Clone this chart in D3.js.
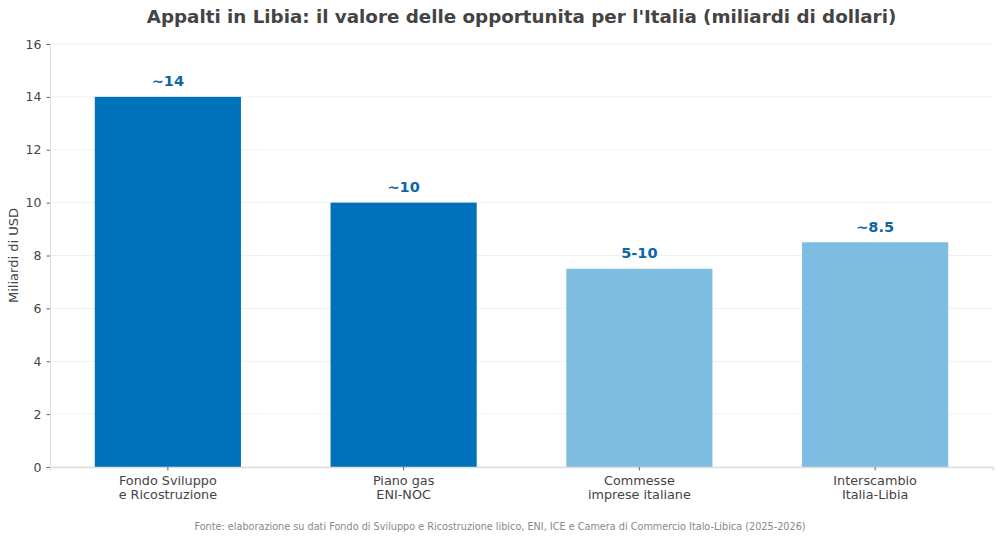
<!DOCTYPE html>
<html>
<head>
<meta charset="utf-8">
<script src="https://cdn.jsdelivr.net/npm/d3@7"></script>
<style>
  body { margin: 0; background: #fff; }
  svg text { font-family: "DejaVu Sans", sans-serif; }
</style>
</head>
<body>
<div id="chart"></div>
<script>
// dati
var categories = ["Fondo Sviluppo\ne Ricostruzione", "Piano gas\nENI-NOC", "Commesse\nimprese italiane", "Interscambio\nItalia-Libia"];
var values = [14, 10, 7.5, 8.5];
var valueLabels = ["~14", "~10", "5-10", "~8.5"];
var barColors = ["#0072bc", "#0072bc", "#7fbce2", "#7fbce2"];
var yTicks = [0, 2, 4, 6, 8, 10, 12, 14, 16];

var W = 1000, H = 542;
var margin = { top: 44, right: 7, bottom: 75, left: 50 };

var svg = d3.select("#chart").append("svg")
    .attr("width", W)
    .attr("height", H);

var x = d3.scaleBand()
    .domain(d3.range(categories.length))
    .range([margin.left, W - margin.right])
    .paddingInner(0.38)
    .paddingOuter(0.19);

var y = d3.scaleLinear()
    .domain([0, 16])
    .range([H - margin.bottom, margin.top]);

// griglia
svg.append("g")
    .selectAll("line")
    .data(yTicks)
    .enter().append("line")
    .attr("x1", margin.left)
    .attr("x2", W - margin.right)
    .attr("y1", function(d) { return y(d); })
    .attr("y2", function(d) { return y(d); })
    .attr("stroke", "#ececec")
    .attr("stroke-width", 0.8);

// barre
svg.append("g")
    .selectAll("rect")
    .data(values)
    .enter().append("rect")
    .attr("x", function(d, i) { return x(i); })
    .attr("y", function(d) { return y(d); })
    .attr("width", x.bandwidth())
    .attr("height", function(d) { return y(0) - y(d); })
    .attr("fill", function(d, i) { return barColors[i]; });

// etichette valori
svg.append("g")
    .selectAll("text")
    .data(values)
    .enter().append("text")
    .attr("x", function(d, i) { return x(i) + x.bandwidth() / 2; })
    .attr("y", function(d) { return y(d) - 10.5; })
    .attr("text-anchor", "middle")
    .attr("font-size", 14.5)
    .attr("font-weight", "bold")
    .attr("fill", "#0d66a6")
    .text(function(d, i) { return valueLabels[i]; });

// asse y
var yAxis = svg.append("g")
    .attr("transform", "translate(" + margin.left + ",0)")
    .call(d3.axisLeft(y).tickValues(yTicks).tickSize(3.5).tickPadding(5));
yAxis.select(".domain").attr("stroke", "#dddddd");
yAxis.selectAll(".tick line").attr("stroke", "#666");
yAxis.selectAll(".tick text")
    .attr("font-size", 12.5)
    .attr("fill", "#444")
    .attr("font-family", "DejaVu Sans, sans-serif");

// asse x
var xAxis = svg.append("g")
    .attr("transform", "translate(0," + y(0) + ")")
    .call(d3.axisBottom(x).tickSize(3.5).tickFormat(""));
xAxis.select(".domain").attr("stroke", "#dddddd").attr("stroke-width", 1.6);
xAxis.selectAll(".tick line").attr("stroke", "#666");

xAxis.selectAll(".tick").each(function(d) {
    var lines = categories[d].split("\n");
    var t = d3.select(this).append("text")
        .attr("text-anchor", "middle")
        .attr("font-size", 12.8)
        .attr("fill", "#444")
        .attr("font-family", "DejaVu Sans, sans-serif");
    lines.forEach(function(l, k) {
        t.append("tspan")
            .attr("x", 0)
            .attr("y", 18 + k * 14)
            .text(l);
    });
});

// titolo
svg.append("text")
    .attr("x", (margin.left + W - margin.right) / 2)
    .attr("y", 23)
    .attr("text-anchor", "middle")
    .attr("font-size", 18.3)
    .attr("font-weight", "bold")
    .attr("fill", "#444")
    .text("Appalti in Libia: il valore delle opportunita per l'Italia (miliardi di dollari)");

// etichetta asse y
svg.append("text")
    .attr("transform", "translate(18," + (margin.top + y(0)) / 2 + ") rotate(-90)")
    .attr("text-anchor", "middle")
    .attr("font-size", 13)
    .attr("fill", "#444")
    .text("Miliardi di USD");

// fonte
svg.append("text")
    .attr("x", W / 2)
    .attr("y", 530)
    .attr("text-anchor", "middle")
    .attr("font-size", 9.7)
    .attr("fill", "#888")
    .text("Fonte: elaborazione su dati Fondo di Sviluppo e Ricostruzione libico, ENI, ICE e Camera di Commercio Italo-Libica (2025-2026)");
</script>
</body>
</html>
